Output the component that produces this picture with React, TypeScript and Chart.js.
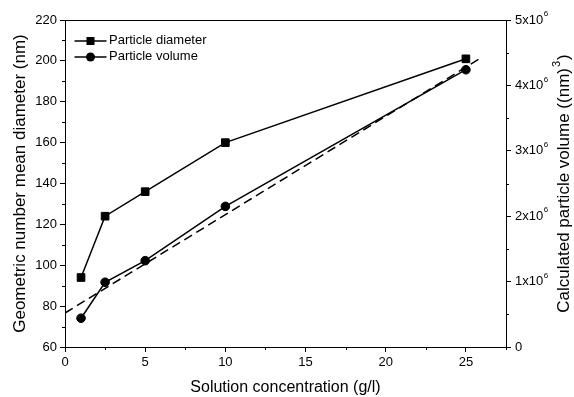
import React, { useEffect, useRef } from "react";
import { Chart, registerables } from "chart.js";

Chart.register(...registerables);

// Solution concentration (g/l)
const concentration = [1, 2.5, 5, 10, 25];
// Geometric number mean diameter (nm)
const diameterNm = [94, 124, 136, 160, 201];
// Calculated particle volume (nm^3)
const volumeNm3 = [0.44e6, 0.99e6, 1.32e6, 2.15e6, 4.24e6];
// Dashed linear trend of the volume
const trendX = [0, 25.8];
const trendVolume = [0.52e6, 4.4e6];

const xTicks = { min: 0, max: 27.5, major: 5, minor: 2.5 };
const leftTicks = { min: 60, max: 220, major: 20, minor: 10 };
const rightTicks = { min: 0, max: 5e6, major: 1e6, minor: 0.5e6 };
// right axis labels as mantissa x 10^exponent
const rightTickMantissa = ["0", "1x10", "2x10", "3x10", "4x10", "5x10"];
const rightTickExponent = ["", "6", "6", "6", "6", "6"];

const rightTitle = { main: "Calculated particle volume ((nm)", sup: "3", tail: ")" };

const FONT = "'Liberation Sans', Arial, Helvetica, sans-serif";
const INK = "#000";

const axisDecorPlugin = {
  id: "axisDecor",
  afterDraw(chart: any) {
    const { ctx, chartArea, scales } = chart;
    ctx.save();
    ctx.strokeStyle = INK;
    ctx.lineWidth = 1;
    const len = 3;
    const draw = (scale: any, cfg: any, side: string) => {
      for (let v = cfg.min + cfg.minor; v < cfg.max + 1e-9; v += cfg.major) {
        const p = Math.round(scale.getPixelForValue(v)) + 0.5;
        ctx.beginPath();
        if (side === "bottom") {
          ctx.moveTo(p, chartArea.bottom);
          ctx.lineTo(p, chartArea.bottom + len);
        } else if (side === "left") {
          ctx.moveTo(chartArea.left, p);
          ctx.lineTo(chartArea.left - len, p);
        } else {
          ctx.moveTo(chartArea.right, p);
          ctx.lineTo(chartArea.right + len, p);
        }
        ctx.stroke();
      }
    };
    draw(scales.x, xTicks, "bottom");
    draw(scales.y, leftTicks, "left");
    draw(scales.y2, rightTicks, "right");
    // top frame line
    ctx.beginPath();
    ctx.moveTo(chartArea.left, chartArea.top + 0.5);
    ctx.lineTo(chartArea.right, chartArea.top + 0.5);
    ctx.stroke();

    // right tick labels with raised exponents
    ctx.fillStyle = INK;
    ctx.textBaseline = "middle";
    ctx.textAlign = "left";
    const y2 = scales.y2;
    rightTickMantissa.forEach((m, i) => {
      const v = rightTicks.min + i * rightTicks.major;
      const py = y2.getPixelForValue(v);
      const px = chartArea.right + 9;
      ctx.font = `13px ${FONT}`;
      ctx.fillText(m, px, py);
      if (rightTickExponent[i]) {
        const w = ctx.measureText(m).width;
        ctx.font = `8px ${FONT}`;
        ctx.fillText(rightTickExponent[i], px + w + 0.5, py - 6);
      }
    });

    // right axis title, reading bottom to top, with a raised exponent
    const cy = (chartArea.top + chartArea.bottom) / 2;
    const mainFont = `17px ${FONT}`;
    const supFont = `11px ${FONT}`;
    ctx.font = mainFont;
    const wMain = ctx.measureText(rightTitle.main).width;
    const wTail = ctx.measureText(rightTitle.tail).width;
    ctx.font = supFont;
    const wSup = ctx.measureText(rightTitle.sup).width + 2;
    const total = wMain + wSup + wTail;
    ctx.translate(564, cy);
    ctx.rotate(-Math.PI / 2);
    let x = -total / 2;
    ctx.font = mainFont;
    ctx.fillText(rightTitle.main, x, 0);
    x += wMain + 1;
    ctx.font = supFont;
    ctx.fillText(rightTitle.sup, x, -7);
    x += wSup - 1;
    ctx.font = mainFont;
    ctx.fillText(rightTitle.tail, x, 0);
    ctx.restore();
  },
};

const legendPlugin = {
  id: "insideLegend",
  afterDatasetsDraw(chart: any) {
    const { ctx, chartArea } = chart;
    const rows = [0, 1];
    ctx.save();
    rows.forEach((i) => {
      const ds = chart.data.datasets[i];
      const y = chartArea.top + 21 + i * 16;
      const x0 = chartArea.left + 9.5;
      const x1 = chartArea.left + 41.5;
      const cx = (x0 + x1) / 2;
      ctx.strokeStyle = INK;
      ctx.lineWidth = 1.5;
      ctx.beginPath();
      ctx.moveTo(x0, y);
      ctx.lineTo(x1, y);
      ctx.stroke();
      ctx.fillStyle = INK;
      ctx.beginPath();
      if (ds.pointStyle === "rect") {
        ctx.rect(cx - 4, y - 4, 8, 8);
      } else {
        ctx.arc(cx, y, 4.5, 0, Math.PI * 2);
      }
      ctx.fill();
      ctx.font = `13px ${FONT}`;
      ctx.textBaseline = "middle";
      ctx.textAlign = "left";
      ctx.fillText(ds.label, x1 + 2.5, y - 1);
    });
    ctx.restore();
  },
};

export default function App() {
  const canvasRef = useRef<HTMLCanvasElement | null>(null);

  useEffect(() => {
    if (!canvasRef.current) return;
    const tickFont = { family: FONT, size: 13 };
    const chart = new Chart(canvasRef.current, {
      type: "line",
      data: {
        datasets: [
          {
            label: "Particle diameter",
            data: concentration.map((c, i) => ({ x: c, y: diameterNm[i] })),
            yAxisID: "y",
            borderColor: INK,
            backgroundColor: INK,
            borderWidth: 1.5,
            pointStyle: "rect",
            pointRadius: 5.4,
            pointBorderWidth: 1,
            pointBackgroundColor: INK,
            pointBorderColor: INK,
            tension: 0,
          },
          {
            label: "Particle volume",
            data: concentration.map((c, i) => ({ x: c, y: volumeNm3[i] })),
            yAxisID: "y2",
            borderColor: INK,
            backgroundColor: INK,
            borderWidth: 1.5,
            pointStyle: "circle",
            pointRadius: 4.3,
            pointBorderWidth: 1,
            pointBackgroundColor: INK,
            pointBorderColor: INK,
            tension: 0,
          },
          {
            label: "Volume trend",
            data: trendX.map((x, i) => ({ x, y: trendVolume[i] })),
            yAxisID: "y2",
            borderColor: INK,
            borderWidth: 1.5,
            borderDash: [9, 5],
            pointRadius: 0,
            tension: 0,
          },
        ],
      },
      options: {
        responsive: false,
        animation: false,
        layout: { padding: { top: 20, left: 0, right: 0, bottom: 0 } },
        plugins: { legend: { display: false }, tooltip: { enabled: false } },
        scales: {
          x: {
            type: "linear",
            position: "bottom",
            min: xTicks.min,
            max: xTicks.max,
            ticks: {
              stepSize: xTicks.major,
              includeBounds: false,
              color: INK,
              font: tickFont,
              padding: 3,
              maxRotation: 0,
            },
            grid: { drawOnChartArea: false, drawTicks: true, tickLength: 5, color: INK },
            border: { display: true, color: INK, width: 1 },
            title: {
              display: true,
              text: "Solution concentration (g/l)",
              color: INK,
              font: { family: FONT, size: 16 },
              padding: { top: 0, bottom: 0 },
            },
            afterFit: (s: any) => {
              s.height = 50;
            },
          },
          y: {
            type: "linear",
            position: "left",
            min: leftTicks.min,
            max: leftTicks.max,
            ticks: {
              stepSize: leftTicks.major,
              includeBounds: false,
              color: INK,
              font: tickFont,
              padding: 3,
            },
            grid: { drawOnChartArea: false, drawTicks: true, tickLength: 5, color: INK },
            border: { display: true, color: INK, width: 1 },
            title: {
              display: true,
              text: "Geometric number mean diameter (nm)",
              color: INK,
              font: { family: FONT, size: 17 },
              padding: { top: 10, bottom: 0 },
            },
            afterFit: (s: any) => {
              s.width = 65;
            },
          },
          y2: {
            type: "linear",
            position: "right",
            min: rightTicks.min,
            max: rightTicks.max,
            ticks: {
              stepSize: rightTicks.major,
              includeBounds: false,
              color: "rgba(0,0,0,0)",
              font: tickFont,
              padding: 3,
            },
            grid: { drawOnChartArea: false, drawTicks: true, tickLength: 5, color: INK },
            border: { display: true, color: INK, width: 1 },
            title: { display: false },
            afterFit: (s: any) => {
              s.width = 68;
            },
          },
        },
      },
      plugins: [axisDecorPlugin, legendPlugin],
    });
    return () => chart.destroy();
  }, []);

  return (
    <div style={{ position: "fixed", left: 0, top: 0, width: 574, height: 397, background: "#fff" }}>
      <canvas ref={canvasRef} width={574} height={397} style={{ display: "block" }} />
    </div>
  );
}
